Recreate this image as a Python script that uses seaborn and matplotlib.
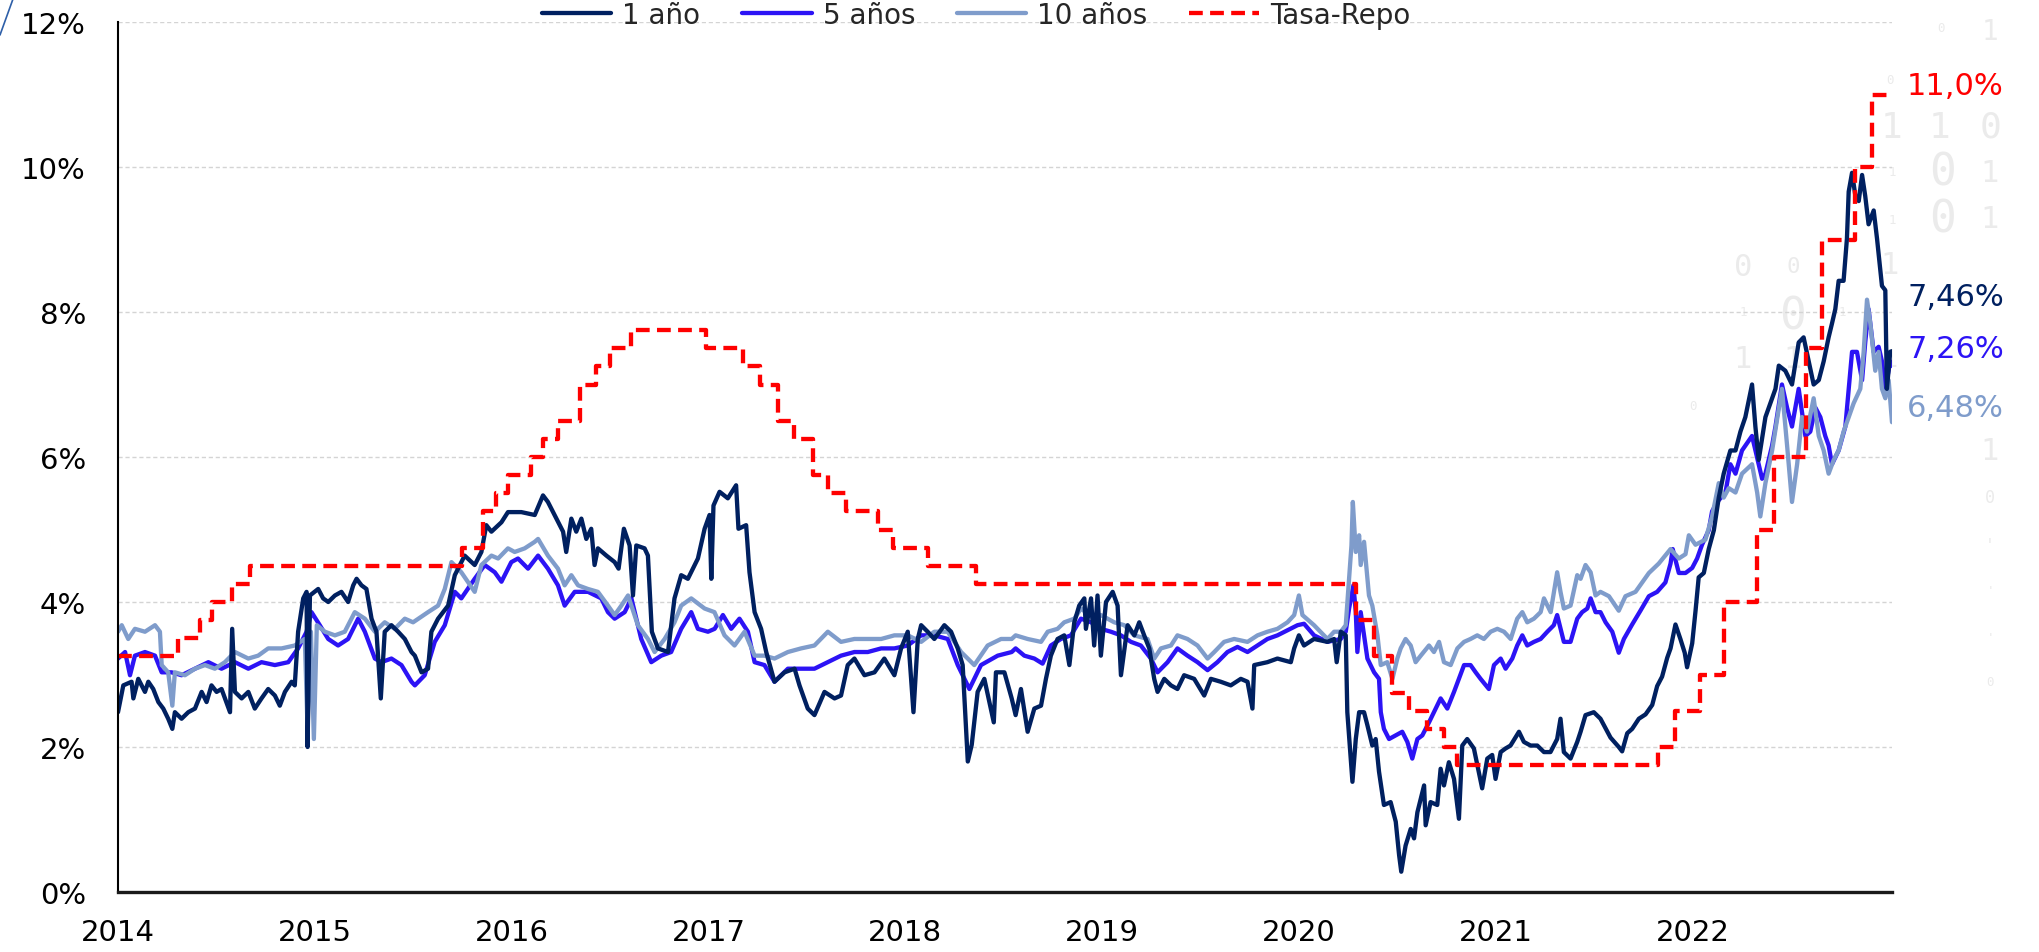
import matplotlib
matplotlib.use("Agg")
import matplotlib.pyplot as plt
import matplotlib.transforms as mtransforms
from matplotlib.lines import Line2D
import pandas as pd
import seaborn as sns

# Curva de rendimientos: (año decimal, tasa en %)
uno_anio = [
    (2014.000, 2.48), (2014.027, 2.85), (2014.069, 2.90), (2014.078, 2.67), (2014.103, 2.94), (2014.137, 2.76),
    (2014.154, 2.90), (2014.179, 2.80), (2014.205, 2.62), (2014.230, 2.53), (2014.255, 2.39), (2014.276, 2.25),
    (2014.289, 2.48), (2014.323, 2.39), (2014.357, 2.48), (2014.391, 2.53), (2014.425, 2.76), (2014.450, 2.62),
    (2014.475, 2.85), (2014.501, 2.76), (2014.526, 2.80), (2014.569, 2.48), (2014.580, 3.63), (2014.594, 2.76),
    (2014.628, 2.67), (2014.662, 2.76), (2014.695, 2.53), (2014.729, 2.67), (2014.763, 2.80), (2014.797, 2.71),
    (2014.822, 2.57), (2014.848, 2.76), (2014.882, 2.90), (2014.898, 2.85), (2014.915, 3.59), (2014.941, 4.05),
    (2014.958, 4.14), (2014.963, 2.00), (2014.975, 4.09), (2015.017, 4.18), (2015.042, 4.05), (2015.068, 4.00),
    (2015.102, 4.09), (2015.135, 4.14), (2015.169, 4.00), (2015.195, 4.23), (2015.212, 4.32), (2015.237, 4.23),
    (2015.262, 4.18), (2015.288, 3.77), (2015.313, 3.59), (2015.335, 2.67), (2015.355, 3.59), (2015.389, 3.68),
    (2015.423, 3.59), (2015.457, 3.49), (2015.491, 3.31), (2015.508, 3.26), (2015.542, 3.03), (2015.575, 3.08),
    (2015.592, 3.59), (2015.626, 3.77), (2015.677, 3.95), (2015.711, 4.37), (2015.761, 4.64), (2015.812, 4.51),
    (2015.846, 4.69), (2015.871, 5.06), (2015.897, 4.97), (2015.948, 5.10), (2015.981, 5.24), (2016.049, 5.24),
    (2016.117, 5.20), (2016.159, 5.47), (2016.184, 5.38), (2016.218, 5.20), (2016.261, 4.97), (2016.277, 4.69),
    (2016.303, 5.15), (2016.328, 4.97), (2016.354, 5.15), (2016.379, 4.87), (2016.404, 5.01), (2016.421, 4.51),
    (2016.438, 4.74), (2016.481, 4.64), (2016.523, 4.55), (2016.543, 4.46), (2016.570, 5.01), (2016.599, 4.78),
    (2016.616, 4.09), (2016.633, 4.78), (2016.675, 4.74), (2016.692, 4.64), (2016.712, 3.59), (2016.743, 3.36),
    (2016.794, 3.31), (2016.827, 4.05), (2016.861, 4.37), (2016.895, 4.32), (2016.946, 4.60), (2016.980, 5.01),
    (2017.005, 5.20), (2017.014, 4.32), (2017.025, 5.33), (2017.056, 5.52), (2017.098, 5.43), (2017.140, 5.61),
    (2017.152, 5.01), (2017.191, 5.06), (2017.208, 4.41), (2017.234, 3.86), (2017.267, 3.63), (2017.293, 3.31),
    (2017.335, 2.90), (2017.386, 3.03), (2017.437, 3.08), (2017.462, 2.85), (2017.504, 2.53), (2017.538, 2.44),
    (2017.589, 2.76), (2017.640, 2.67), (2017.673, 2.71), (2017.707, 3.13), (2017.741, 3.22), (2017.792, 2.99),
    (2017.843, 3.03), (2017.893, 3.22), (2017.944, 2.99), (2017.978, 3.36), (2018.012, 3.59), (2018.041, 2.48),
    (2018.063, 3.49), (2018.080, 3.68), (2018.113, 3.59), (2018.147, 3.49), (2018.198, 3.68), (2018.232, 3.59),
    (2018.266, 3.36), (2018.291, 3.13), (2018.317, 1.80), (2018.337, 2.03), (2018.367, 2.76), (2018.401, 2.94),
    (2018.449, 2.34), (2018.460, 3.03), (2018.503, 3.03), (2018.540, 2.67), (2018.560, 2.44), (2018.587, 2.80),
    (2018.621, 2.21), (2018.655, 2.53), (2018.689, 2.57), (2018.714, 2.94), (2018.739, 3.26), (2018.773, 3.49),
    (2018.807, 3.54), (2018.833, 3.13), (2018.858, 3.72), (2018.883, 3.95), (2018.909, 4.05), (2018.917, 3.63),
    (2018.943, 4.05), (2018.959, 3.40), (2018.976, 4.09), (2018.993, 3.26), (2019.019, 4.00), (2019.053, 4.14),
    (2019.078, 3.95), (2019.095, 2.99), (2019.129, 3.68), (2019.163, 3.54), (2019.188, 3.72), (2019.213, 3.54),
    (2019.239, 3.36), (2019.264, 2.94), (2019.281, 2.76), (2019.315, 2.94), (2019.349, 2.85), (2019.382, 2.80),
    (2019.416, 2.99), (2019.467, 2.94), (2019.518, 2.71), (2019.552, 2.94), (2019.602, 2.90), (2019.653, 2.85),
    (2019.704, 2.94), (2019.738, 2.90), (2019.763, 2.53), (2019.772, 3.13), (2019.839, 3.17), (2019.890, 3.22),
    (2019.958, 3.17), (2019.975, 3.36), (2019.999, 3.54), (2020.025, 3.40), (2020.076, 3.49), (2020.144, 3.45),
    (2020.178, 3.49), (2020.191, 3.17), (2020.212, 3.59), (2020.237, 3.54), (2020.245, 2.48), (2020.271, 1.52),
    (2020.288, 2.11), (2020.305, 2.48), (2020.330, 2.48), (2020.347, 2.30), (2020.372, 2.02), (2020.389, 2.11),
    (2020.406, 1.66), (2020.431, 1.20), (2020.465, 1.24), (2020.491, 0.97), (2020.508, 0.51), (2020.519, 0.28),
    (2020.541, 0.64), (2020.567, 0.87), (2020.584, 0.74), (2020.601, 1.10), (2020.635, 1.47), (2020.643, 0.92),
    (2020.668, 1.24), (2020.702, 1.20), (2020.719, 1.70), (2020.736, 1.47), (2020.761, 1.79), (2020.787, 1.56),
    (2020.812, 1.01), (2020.829, 2.02), (2020.854, 2.11), (2020.888, 1.98), (2020.930, 1.43), (2020.956, 1.84),
    (2020.981, 1.89), (2020.998, 1.56), (2021.024, 1.93), (2021.049, 1.98), (2021.074, 2.02), (2021.117, 2.21),
    (2021.142, 2.07), (2021.176, 2.02), (2021.210, 2.02), (2021.244, 1.93), (2021.277, 1.93), (2021.311, 2.11),
    (2021.328, 2.39), (2021.345, 1.93), (2021.379, 1.84), (2021.413, 2.07), (2021.430, 2.21), (2021.455, 2.44),
    (2021.497, 2.48), (2021.531, 2.39), (2021.582, 2.13), (2021.624, 2.00), (2021.641, 1.94), (2021.667, 2.19),
    (2021.692, 2.25), (2021.726, 2.39), (2021.760, 2.45), (2021.794, 2.58), (2021.819, 2.84), (2021.844, 2.97),
    (2021.870, 3.23), (2021.887, 3.36), (2021.912, 3.69), (2021.937, 3.49), (2021.959, 3.30), (2021.971, 3.10),
    (2021.997, 3.43), (2022.014, 3.88), (2022.030, 4.34), (2022.056, 4.40), (2022.081, 4.73), (2022.107, 4.99),
    (2022.132, 5.44), (2022.157, 5.77), (2022.191, 6.09), (2022.217, 6.09), (2022.242, 6.35), (2022.267, 6.55),
    (2022.301, 7.00), (2022.318, 6.42), (2022.335, 5.96), (2022.369, 6.55), (2022.403, 6.81), (2022.420, 6.94),
    (2022.437, 7.26), (2022.470, 7.19), (2022.504, 7.00), (2022.538, 7.58), (2022.563, 7.65), (2022.589, 7.32),
    (2022.614, 7.00), (2022.640, 7.06), (2022.665, 7.32), (2022.690, 7.65), (2022.707, 7.84), (2022.724, 8.04),
    (2022.741, 8.43), (2022.766, 8.43), (2022.783, 9.01), (2022.792, 9.66), (2022.809, 9.92), (2022.826, 9.60),
    (2022.843, 9.53), (2022.860, 9.89), (2022.876, 9.60), (2022.893, 9.21), (2022.919, 9.40), (2022.936, 9.01),
    (2022.961, 8.36), (2022.978, 8.30), (2022.986, 6.94), (2023.003, 7.45), (2023.012, 7.46),
]

cinco_anios = [
    (2014.000, 3.22), (2014.036, 3.31), (2014.061, 2.99), (2014.086, 3.26), (2014.137, 3.31), (2014.188, 3.26),
    (2014.222, 3.03), (2014.272, 3.03), (2014.323, 2.99), (2014.391, 3.08), (2014.459, 3.17), (2014.526, 3.08),
    (2014.594, 3.17), (2014.662, 3.08), (2014.729, 3.17), (2014.797, 3.13), (2014.865, 3.17), (2014.915, 3.36),
    (2014.958, 3.59), (2014.983, 3.86), (2015.025, 3.68), (2015.068, 3.49), (2015.118, 3.40), (2015.169, 3.49),
    (2015.220, 3.77), (2015.254, 3.59), (2015.305, 3.22), (2015.338, 3.17), (2015.389, 3.22), (2015.440, 3.13),
    (2015.491, 2.90), (2015.508, 2.85), (2015.558, 2.99), (2015.609, 3.45), (2015.660, 3.68), (2015.711, 4.14),
    (2015.744, 4.05), (2015.812, 4.32), (2015.863, 4.51), (2015.914, 4.41), (2015.948, 4.28), (2015.998, 4.55),
    (2016.032, 4.60), (2016.083, 4.46), (2016.134, 4.64), (2016.184, 4.46), (2016.235, 4.23), (2016.269, 3.95),
    (2016.320, 4.14), (2016.388, 4.14), (2016.455, 4.05), (2016.489, 3.86), (2016.523, 3.77), (2016.574, 3.86),
    (2016.608, 4.05), (2016.658, 3.49), (2016.709, 3.17), (2016.760, 3.26), (2016.810, 3.31), (2016.861, 3.63),
    (2016.912, 3.86), (2016.946, 3.63), (2016.997, 3.59), (2017.031, 3.63), (2017.073, 3.82), (2017.115, 3.63),
    (2017.157, 3.77), (2017.200, 3.59), (2017.234, 3.17), (2017.284, 3.13), (2017.335, 2.90), (2017.403, 3.08),
    (2017.470, 3.08), (2017.538, 3.08), (2017.606, 3.17), (2017.673, 3.26), (2017.741, 3.31), (2017.809, 3.31),
    (2017.877, 3.36), (2017.944, 3.36), (2018.012, 3.40), (2018.080, 3.54), (2018.147, 3.54), (2018.215, 3.49),
    (2018.266, 3.13), (2018.325, 2.80), (2018.384, 3.13), (2018.469, 3.26), (2018.540, 3.31), (2018.560, 3.36),
    (2018.604, 3.26), (2018.655, 3.22), (2018.697, 3.15), (2018.739, 3.40), (2018.790, 3.49), (2018.841, 3.54),
    (2018.892, 3.77), (2018.943, 3.72), (2018.993, 3.63), (2019.044, 3.59), (2019.095, 3.54), (2019.146, 3.45),
    (2019.196, 3.40), (2019.247, 3.22), (2019.281, 3.03), (2019.332, 3.17), (2019.382, 3.36), (2019.433, 3.26),
    (2019.484, 3.17), (2019.535, 3.06), (2019.585, 3.17), (2019.636, 3.31), (2019.687, 3.38), (2019.738, 3.31),
    (2019.789, 3.40), (2019.839, 3.49), (2019.890, 3.54), (2019.941, 3.61), (2019.992, 3.68), (2020.025, 3.70),
    (2020.076, 3.54), (2020.144, 3.45), (2020.212, 3.49), (2020.237, 3.59), (2020.254, 3.91), (2020.276, 4.23),
    (2020.288, 3.86), (2020.296, 3.31), (2020.313, 3.86), (2020.347, 3.22), (2020.381, 3.03), (2020.406, 2.94),
    (2020.415, 2.48), (2020.431, 2.25), (2020.457, 2.11), (2020.491, 2.16), (2020.524, 2.21), (2020.550, 2.07),
    (2020.575, 1.84), (2020.601, 2.11), (2020.626, 2.16), (2020.660, 2.34), (2020.685, 2.48), (2020.719, 2.67),
    (2020.753, 2.53), (2020.787, 2.76), (2020.812, 2.94), (2020.838, 3.13), (2020.871, 3.13), (2020.897, 3.03),
    (2020.922, 2.94), (2020.964, 2.80), (2020.990, 3.13), (2021.024, 3.22), (2021.049, 3.08), (2021.083, 3.22),
    (2021.108, 3.40), (2021.134, 3.54), (2021.159, 3.40), (2021.193, 3.45), (2021.227, 3.49), (2021.261, 3.59),
    (2021.294, 3.68), (2021.311, 3.82), (2021.345, 3.45), (2021.379, 3.45), (2021.413, 3.77), (2021.438, 3.86),
    (2021.464, 3.91), (2021.481, 4.05), (2021.506, 3.86), (2021.531, 3.86), (2021.557, 3.72), (2021.591, 3.59),
    (2021.624, 3.30), (2021.650, 3.49), (2021.692, 3.69), (2021.734, 3.88), (2021.777, 4.08), (2021.819, 4.14),
    (2021.861, 4.27), (2021.887, 4.53), (2021.898, 4.73), (2021.929, 4.40), (2021.963, 4.40), (2021.997, 4.47),
    (2022.022, 4.60), (2022.047, 4.79), (2022.081, 4.99), (2022.098, 5.25), (2022.124, 5.38), (2022.166, 5.51),
    (2022.191, 5.90), (2022.217, 5.77), (2022.250, 6.09), (2022.301, 6.29), (2022.335, 5.90), (2022.352, 5.70),
    (2022.369, 5.77), (2022.403, 6.16), (2022.420, 6.42), (2022.453, 7.00), (2022.479, 6.68), (2022.504, 6.42),
    (2022.538, 6.94), (2022.572, 6.29), (2022.597, 6.35), (2022.623, 6.68), (2022.648, 6.55), (2022.673, 6.29),
    (2022.690, 6.16), (2022.707, 5.90), (2022.741, 6.09), (2022.775, 6.42), (2022.792, 6.94), (2022.809, 7.45),
    (2022.834, 7.45), (2022.860, 7.06), (2022.876, 7.58), (2022.893, 8.04), (2022.919, 7.45), (2022.944, 7.52),
    (2022.961, 7.32), (2022.978, 6.94), (2023.003, 7.32), (2023.012, 7.26),
]

diez_anios = [
    (2014.000, 3.59), (2014.019, 3.68), (2014.052, 3.49), (2014.086, 3.63), (2014.137, 3.59), (2014.188, 3.68),
    (2014.213, 3.59), (2014.222, 3.13), (2014.255, 3.03), (2014.276, 2.57), (2014.289, 3.03), (2014.340, 2.99),
    (2014.391, 3.08), (2014.442, 3.13), (2014.492, 3.08), (2014.543, 3.17), (2014.594, 3.31), (2014.662, 3.22),
    (2014.712, 3.26), (2014.763, 3.36), (2014.831, 3.36), (2014.898, 3.40), (2014.949, 3.49), (2014.963, 2.25),
    (2014.980, 3.59), (2014.995, 2.11), (2015.010, 3.68), (2015.051, 3.59), (2015.102, 3.54), (2015.152, 3.59),
    (2015.203, 3.86), (2015.254, 3.77), (2015.305, 3.59), (2015.355, 3.72), (2015.406, 3.63), (2015.457, 3.77),
    (2015.499, 3.72), (2015.575, 3.86), (2015.626, 3.95), (2015.660, 4.18), (2015.694, 4.55), (2015.744, 4.41),
    (2015.812, 4.14), (2015.846, 4.51), (2015.897, 4.64), (2015.931, 4.60), (2015.981, 4.74), (2016.015, 4.69),
    (2016.066, 4.74), (2016.117, 4.83), (2016.134, 4.87), (2016.184, 4.64), (2016.235, 4.46), (2016.269, 4.23),
    (2016.303, 4.37), (2016.337, 4.23), (2016.387, 4.18), (2016.438, 4.14), (2016.489, 3.95), (2016.523, 3.82),
    (2016.557, 3.95), (2016.591, 4.09), (2016.641, 3.68), (2016.692, 3.49), (2016.726, 3.31), (2016.777, 3.49),
    (2016.827, 3.72), (2016.861, 3.95), (2016.912, 4.05), (2016.980, 3.91), (2017.030, 3.86), (2017.081, 3.54),
    (2017.132, 3.40), (2017.183, 3.59), (2017.234, 3.26), (2017.284, 3.26), (2017.335, 3.22), (2017.403, 3.31),
    (2017.470, 3.36), (2017.538, 3.40), (2017.606, 3.59), (2017.673, 3.45), (2017.741, 3.49), (2017.809, 3.49),
    (2017.877, 3.49), (2017.944, 3.54), (2018.012, 3.54), (2018.080, 3.45), (2018.147, 3.59), (2018.215, 3.59),
    (2018.283, 3.31), (2018.350, 3.13), (2018.418, 3.40), (2018.486, 3.49), (2018.540, 3.49), (2018.560, 3.54),
    (2018.621, 3.49), (2018.689, 3.45), (2018.723, 3.59), (2018.773, 3.63), (2018.807, 3.72), (2018.858, 3.77),
    (2018.892, 3.91), (2018.959, 3.77), (2018.993, 3.82), (2019.061, 3.72), (2019.112, 3.68), (2019.163, 3.54),
    (2019.230, 3.49), (2019.264, 3.22), (2019.298, 3.36), (2019.349, 3.40), (2019.382, 3.54), (2019.433, 3.49),
    (2019.484, 3.40), (2019.535, 3.22), (2019.569, 3.31), (2019.619, 3.45), (2019.670, 3.49), (2019.738, 3.45),
    (2019.789, 3.54), (2019.839, 3.59), (2019.890, 3.63), (2019.941, 3.72), (2019.975, 3.82), (2019.999, 4.09),
    (2020.017, 3.82), (2020.076, 3.68), (2020.144, 3.49), (2020.178, 3.59), (2020.212, 3.59), (2020.237, 3.68),
    (2020.254, 4.32), (2020.266, 4.78), (2020.273, 5.38), (2020.288, 4.69), (2020.305, 4.92), (2020.313, 4.51),
    (2020.330, 4.83), (2020.355, 4.09), (2020.372, 3.95), (2020.398, 3.54), (2020.415, 3.13), (2020.448, 3.17),
    (2020.474, 2.94), (2020.499, 3.22), (2020.516, 3.36), (2020.541, 3.49), (2020.567, 3.40), (2020.592, 3.17),
    (2020.618, 3.26), (2020.660, 3.40), (2020.685, 3.31), (2020.711, 3.45), (2020.736, 3.17), (2020.770, 3.13),
    (2020.804, 3.36), (2020.838, 3.45), (2020.871, 3.49), (2020.905, 3.54), (2020.939, 3.49), (2020.973, 3.59),
    (2021.007, 3.63), (2021.041, 3.59), (2021.075, 3.49), (2021.108, 3.77), (2021.134, 3.86), (2021.159, 3.72),
    (2021.193, 3.77), (2021.227, 3.86), (2021.244, 4.05), (2021.278, 3.86), (2021.311, 4.41), (2021.328, 4.14),
    (2021.345, 3.91), (2021.379, 3.95), (2021.413, 4.37), (2021.430, 4.32), (2021.455, 4.51), (2021.481, 4.41),
    (2021.506, 4.09), (2021.531, 4.14), (2021.574, 4.08), (2021.624, 3.88), (2021.658, 4.08), (2021.709, 4.14),
    (2021.777, 4.40), (2021.827, 4.53), (2021.887, 4.73), (2021.929, 4.60), (2021.963, 4.66), (2021.980, 4.92),
    (2022.014, 4.79), (2022.064, 4.86), (2022.098, 5.18), (2022.132, 5.64), (2022.157, 5.44), (2022.183, 5.57),
    (2022.217, 5.51), (2022.250, 5.77), (2022.301, 5.90), (2022.327, 5.51), (2022.343, 5.18), (2022.369, 5.64),
    (2022.403, 6.09), (2022.453, 6.94), (2022.479, 6.16), (2022.504, 5.38), (2022.530, 5.90), (2022.555, 6.55),
    (2022.580, 6.35), (2022.614, 6.81), (2022.640, 6.29), (2022.665, 6.09), (2022.690, 5.77), (2022.716, 5.96),
    (2022.741, 6.09), (2022.766, 6.35), (2022.792, 6.55), (2022.817, 6.74), (2022.851, 6.94), (2022.868, 7.45),
    (2022.885, 8.17), (2022.902, 7.84), (2022.927, 7.19), (2022.944, 7.45), (2022.961, 6.94), (2022.978, 6.81),
    (2022.995, 7.06), (2023.012, 6.48),
]

# Tasa de política monetaria: (inicio de vigencia, tasa en %)
tasa_repo = [
    (2014.000, 3.25), (2014.306, 3.50), (2014.416, 3.75), (2014.475, 4.00), (2014.577, 4.25), (2014.670, 4.50),
    (2015.745, 4.75), (2015.854, 5.25), (2015.922, 5.50), (2015.981, 5.75), (2016.100, 6.00), (2016.159, 6.25),
    (2016.235, 6.50), (2016.345, 7.00), (2016.430, 7.25), (2016.497, 7.50), (2016.604, 7.75), (2016.988, 7.50),
    (2017.174, 7.25), (2017.259, 7.00), (2017.352, 6.50), (2017.436, 6.25), (2017.530, 5.75), (2017.606, 5.50),
    (2017.699, 5.25), (2017.860, 5.00), (2017.936, 4.75), (2018.113, 4.50), (2018.359, 4.25), (2020.288, 3.75),
    (2020.381, 3.25), (2020.474, 2.75), (2020.558, 2.50), (2020.651, 2.25), (2020.736, 2.00), (2020.804, 1.75),
    (2021.824, 2.00), (2021.909, 2.50), (2022.039, 3.00), (2022.157, 4.00), (2022.327, 5.00), (2022.411, 6.00),
    (2022.575, 7.50), (2022.657, 9.00), (2022.826, 10.00), (2022.910, 11.00), (2023.012, 11.00),
]

nombres = ["1 año", "5 años", "10 años", "Tasa-Repo"]
anios = list(range(2014, 2023))
niveles_y = [0, 2, 4, 6, 8, 10, 12]

C_1A = "#002060"
C_5A = "#2c13f5"
C_10A = "#7f9ccb"
C_REPO = "#ff0000"

sns.set_theme(style="white")
plt.rcParams["font.family"] = ["DejaVu Sans"]

W, H = 2039, 953
fig = plt.figure(figsize=(W / 100, H / 100), dpi=100)
ax = fig.add_axes([118 / W, 1 - 893 / H, (1892 - 118) / W, (893 - 23) / H])
ax.patch.set_visible(False)

# Fondo decorativo de dígitos binarios (x px, y px, dígito, tamaño en pt)
fondo_binario = [
    (1941, 29, "0", 9), (1990, 32, "1", 20),
    (1890, 80, "0", 9),
    (1892, 128, "1", 26), (1940, 128, "1", 26), (1990, 128, "0", 26),
    (1892, 173, "1", 9), (1942, 173, "0", 32), (1990, 173, "1", 22),
    (1892, 220, "1", 9), (1942, 220, "0", 32), (1990, 220, "1", 22),
    (1743, 267, "0", 22), (1793, 267, "0", 16), (1890, 265, "1", 22),
    (1743, 313, "1", 9), (1793, 317, "0", 32), (1842, 313, "1", 9),
    (1743, 360, "1", 22), (1793, 360, "1", 22), (1890, 360, "1", 18),
    (1693, 407, "0", 9), (1990, 452, "1", 22),
    (1990, 498, "0", 12), (1990, 546, "'", 12), (1990, 592, "'", 9),
    (1990, 638, "'", 9), (1990, 683, "0", 9),
]
for xp, yp, d, tam in fondo_binario:
    ax.text(xp / W, 1 - yp / H, d, transform=fig.transFigure, fontsize=tam,
            family="DejaVu Sans Mono", color="#ebebeb", ha="center", va="center",
            zorder=0.5, clip_on=False)


def marco(pares):
    return pd.DataFrame(pares, columns=["fecha", "tasa"])


lw = 3.1
sns.lineplot(data=marco(cinco_anios), x="fecha", y="tasa", color=C_5A, linewidth=lw,
             estimator=None, ax=ax, legend=False)
sns.lineplot(data=marco(diez_anios), x="fecha", y="tasa", color=C_10A, linewidth=lw,
             estimator=None, ax=ax, legend=False)
sns.lineplot(data=marco(uno_anio), x="fecha", y="tasa", color=C_1A, linewidth=lw,
             estimator=None, ax=ax, legend=False)
sns.lineplot(data=marco(tasa_repo), x="fecha", y="tasa", color=C_REPO, linewidth=lw,
             estimator=None, ax=ax, legend=False, drawstyle="steps-post")
linea_repo = ax.lines[-1]
linea_repo.set_linestyle((0, (3.2, 1.7)))
for ln in ax.lines:
    ln.set_solid_capstyle("round")
    ln.set_solid_joinstyle("round")

ax.set_xlim(2014.0, 2023.012)
ax.set_ylim(0, 12)
ax.set_xticks(anios)
ax.set_xticklabels([str(a) for a in anios])
ax.set_yticks(niveles_y)
ax.set_yticklabels([f"{v}%" for v in niveles_y])
ax.set_xlabel("")
ax.set_ylabel("")

ax.yaxis.grid(True, color="#d4d4d4", linestyle=(0, (3, 2)), linewidth=1.0)
ax.xaxis.grid(False)
ax.set_axisbelow(True)
for s in ["top", "right"]:
    ax.spines[s].set_visible(False)
ax.spines["left"].set_color("#000000")
ax.spines["left"].set_linewidth(1.5)
ax.spines["bottom"].set_color("#1a1a1a")
ax.spines["bottom"].set_linewidth(2.4)
ax.tick_params(axis="x", length=0, pad=19, labelsize=21, colors="#000000")
ax.tick_params(axis="y", length=0, pad=23, labelsize=21, colors="#000000")

# Etiquetas con el último dato de cada serie
finales = [
    (uno_anio[-1][1], C_1A, 8.22, 2),
    (cinco_anios[-1][1], C_5A, 7.50, 2),
    (diez_anios[-1][1], C_10A, 6.68, 2),
    (tasa_repo[-1][1], C_REPO, 11.13, 1),
]
trans = mtransforms.blended_transform_factory(ax.transAxes, ax.transData)
for valor, color, altura, dec in finales:
    texto = f"{valor:.{dec}f}%".replace(".", ",")
    ax.text(1.0085, altura, texto, transform=trans, color=color, fontsize=22,
            ha="left", va="center", zorder=5, clip_on=False)

# Leyenda superior
manejadores = [
    Line2D([], [], color=C_1A, lw=lw, solid_capstyle="round"),
    Line2D([], [], color=C_5A, lw=lw, solid_capstyle="round"),
    Line2D([], [], color=C_10A, lw=lw, solid_capstyle="round"),
    Line2D([], [], color=C_REPO, lw=lw, linestyle=(0, (3.2, 1.7))),
]
fig.legend(manejadores, nombres, loc="center", bbox_to_anchor=(976 / W, 1 - 16 / H),
           ncol=4, frameon=False, fontsize=20, handlelength=2.5, handletextpad=0.4,
           columnspacing=1.5, borderaxespad=0, borderpad=0)

# Trazo decorativo en la esquina superior izquierda
fig.add_artist(Line2D([0 / W, 13 / W], [1 - 36 / H, 1.0], color="#2e5fa8", lw=1.2,
                      transform=fig.transFigure))

fig.savefig("out.png", dpi=100)
